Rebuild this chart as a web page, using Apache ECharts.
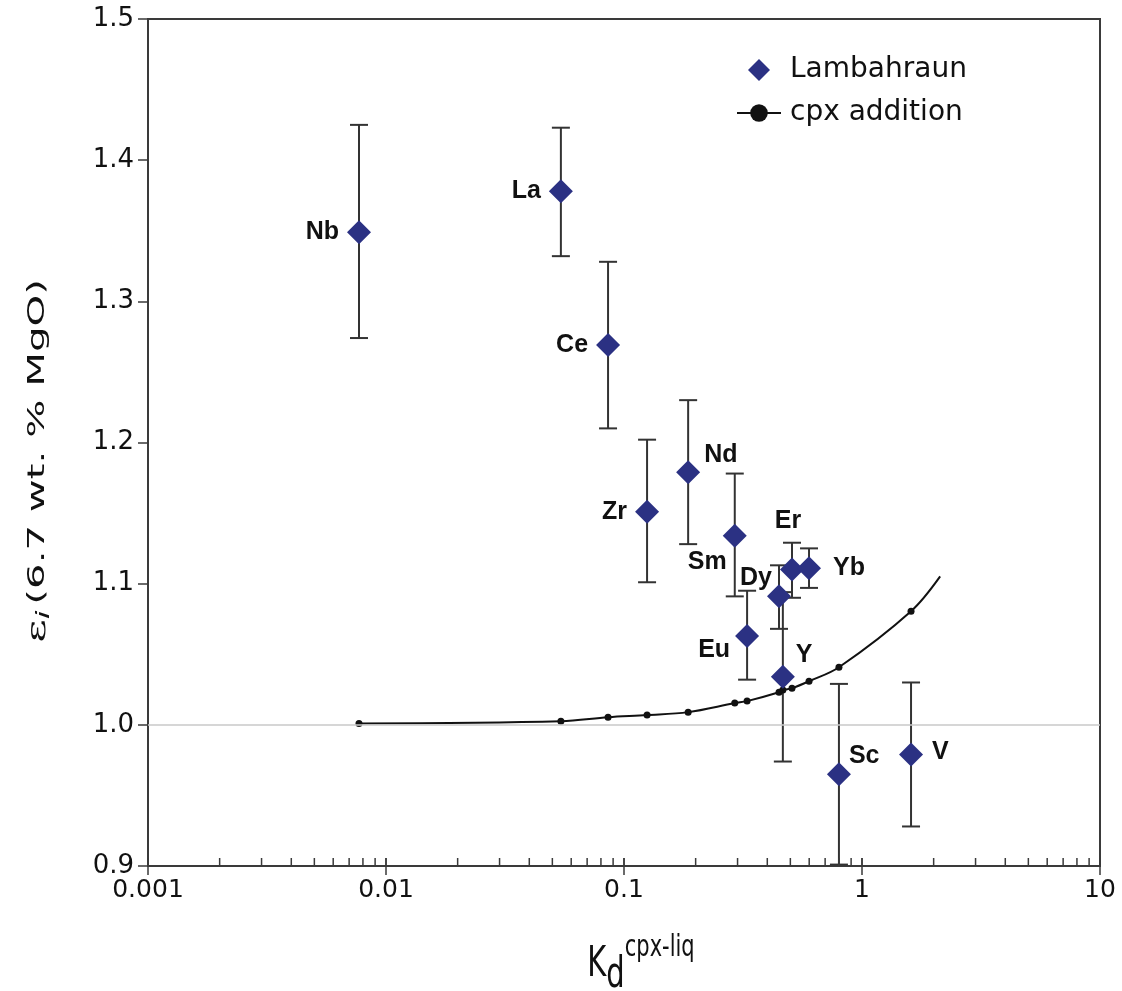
<!DOCTYPE html>
<html>
<head>
<meta charset="utf-8">
<script src="https://cdn.jsdelivr.net/npm/echarts@6/dist/echarts.min.js"></script>
<style>html,body{margin:0;padding:0;background:#fff}#c{width:1122px;height:991px}</style>
</head>
<body>
<div id="c"></div>
<script>
// ---- data ----
var elements = ['Nb','La','Ce','Zr','Nd','Sm','Eu','Dy','Y','Er','Yb','Sc','V'];
var kd       = [0.0077,0.0543,0.0857,0.125,0.186,0.292,0.329,0.448,0.465,0.508,0.599,0.80,1.607];
var epsilon  = [1.349,1.378,1.269,1.151,1.179,1.134,1.063,1.091,1.034,1.110,1.111,0.965,0.979];
var errLow   = [1.274,1.332,1.210,1.101,1.128,1.091,1.032,1.068,0.974,1.090,1.097,0.901,0.928];
var errHigh  = [1.425,1.423,1.328,1.202,1.230,1.178,1.095,1.113,1.094,1.129,1.125,1.029,1.030];
var cpxKd    = [0.0077,0.0543,0.0857,0.125,0.186,0.292,0.329,0.448,0.465,0.508,0.599,0.80,1.607,2.13];
var cpxEps   = [1.001,1.0026,1.0054,1.0069,1.009,1.0154,1.0168,1.0231,1.0246,1.026,1.0309,1.0408,1.0805,1.1052];
var xTickValues = [0.001,0.01,0.1,1,10];
var xTickLabels = ['0.001','0.01','0.1','1','10'];
var yTickLabels = ['0.9','1.0','1.1','1.2','1.3','1.4','1.5'];

// ---- label placement (layout only) ----
var labelPlace = {
  Nb:['left',[0,0]], La:['left',[0,0]], Ce:['left',[0,0]], Zr:['left',[0,0]],
  Nd:['right',[-4,-17]], Sm:['left',[12,26]], Dy:['left',[13,-18]], Er:['top',[-4,-16]],
  Yb:['right',[4,0]], Eu:['left',[3,14]], Y:['right',[-7,-22]], Sc:['right',[-10,-18]], V:['right',[1,-2]]
};

var minorTicks = [];
for (var d = -3; d < 1; d++) {
  for (var k = 1; k <= 10; k++) {
    minorTicks.push(Math.round(k * Math.pow(10, d) * 1e6) / 1e6);
  }
}

var scatterData = elements.map(function (el, i) {
  var p = labelPlace[el];
  return {
    name: el,
    value: [kd[i], epsilon[i]],
    label: {show: true, position: p[0], offset: p[1], distance: 8, formatter: el}
  };
});
var errData = elements.map(function (el, i) { return [kd[i], errLow[i], errHigh[i]]; });
var lineData = cpxKd.map(function (x, i) {
  var item = {value: [x, cpxEps[i]]};
  if (i === cpxKd.length - 1) item.symbol = 'none';
  return item;
});

var chart = echarts.init(document.getElementById('c'), null, {renderer: 'canvas'});
var axisColor = '#3a3a3a';
var txt = '#111';
chart.setOption({
  backgroundColor: '#fff',
  animation: false,
  grid: {left: 148, right: 22, top: 19, bottom: 125, show: true, borderColor: axisColor, borderWidth: 2, backgroundColor: 'transparent'},
  legend: {
    orient: 'vertical', left: 731, top: 51, itemWidth: 44, itemHeight: 22, itemGap: 15,
    symbolKeepAspect: true,
    textStyle: {fontFamily: 'DejaVu Sans', fontSize: 28, color: txt, padding: [0, 0, 0, 4]},
    data: [{name: 'Lambahraun', icon: 'path://M0,-1L1,0L0,1L-1,0Z'}, {name: 'cpx addition'}]
  },
  graphic: [
    {
      type: 'text', x: 641, y: 965, scaleY: 1.45, silent: true,
      style: {
        text: '{k|K}{d|d}{s|cpx-liq}', align: 'center', verticalAlign: 'middle',
        textAlign: 'center', textVerticalAlign: 'middle',
        rich: {
          k: {fontFamily: 'DejaVu Sans', fontSize: 29, fill: txt, color: txt, lineHeight: 44, verticalAlign: 'middle'},
          d: {fontFamily: 'DejaVu Sans', fontSize: 29, fill: txt, color: txt, lineHeight: 26, verticalAlign: 'bottom'},
          s: {fontFamily: 'DejaVu Sans', fontSize: 21, fill: txt, color: txt, lineHeight: 20, verticalAlign: 'top'}
        }
      }
    },
    {
      type: 'text', x: 38, y: 461, rotation: Math.PI / 2, scaleX: 1.75, silent: true,
      style: {
        text: '{e|ε}{i|i} {t|(6.7 wt. % MgO)}', align: 'center', verticalAlign: 'middle',
        textAlign: 'center', textVerticalAlign: 'middle',
        rich: {
          e: {fontFamily: 'DejaVu Serif', fontSize: 26, fill: txt, color: txt, lineHeight: 30, verticalAlign: 'middle'},
          i: {fontFamily: 'DejaVu Sans', fontStyle: 'italic', fontSize: 18, fill: txt, color: txt, lineHeight: 16, verticalAlign: 'bottom'},
          t: {fontFamily: 'DejaVu Sans', fontSize: 23, fill: txt, color: txt, lineHeight: 30, verticalAlign: 'middle'}
        }
      }
    }
  ],
  xAxis: {
    type: 'log', logBase: 10, min: 0.001, max: 10,
    axisLine: {show: true, lineStyle: {color: axisColor, width: 2}},
    axisTick: {show: true, inside: false, length: 9, lineStyle: {color: axisColor, width: 1.5}},
    axisLabel: {fontFamily: 'DejaVu Sans', fontSize: 25, color: txt, margin: 12,
      formatter: function (v) {
        for (var i = 0; i < xTickValues.length; i++) if (Math.abs(Math.log10(v) - Math.log10(xTickValues[i])) < 1e-6) return xTickLabels[i];
        return '';
      }},
    splitLine: {show: false}
  },
  yAxis: {
    type: 'value', min: 0.9, max: 1.5, interval: 0.1,
    axisLine: {show: true, lineStyle: {color: axisColor, width: 2}},
    axisTick: {show: true, inside: false, length: 10, lineStyle: {color: axisColor, width: 1.5}},
    axisLabel: {fontFamily: 'DejaVu Sans', fontSize: 26, color: txt, margin: 14,
      formatter: function (v) { return yTickLabels[Math.round((v - 0.9) * 10)]; }},
    splitLine: {show: false}
  },
  series: [
    {
      name: 'ref', type: 'line', data: [], silent: true,
      markLine: {silent: true, symbol: 'none', label: {show: false},
        lineStyle: {color: '#c8c8c8', width: 1.5, type: 'solid'}, data: [{yAxis: 1.0}]}
    },
    {
      name: 'minor', type: 'custom', silent: true, z: 3,
      data: minorTicks,
      encode: {x: 0},
      renderItem: function (params, api) {
        var p = api.coord([api.value(0), 0.9]);
        return {type: 'line', shape: {x1: p[0], y1: p[1], x2: p[0], y2: p[1] - 8},
          style: {stroke: axisColor, lineWidth: 1.5}};
      }
    },
    {
      name: 'err', type: 'custom', silent: true, z: 2,
      data: errData,
      encode: {x: 0, y: [1, 2]},
      renderItem: function (params, api) {
        var lo = api.coord([api.value(0), api.value(1)]);
        var hi = api.coord([api.value(0), api.value(2)]);
        var w = 9;
        var st = {stroke: '#333', lineWidth: 2};
        return {type: 'group', children: [
          {type: 'line', shape: {x1: lo[0], y1: lo[1], x2: hi[0], y2: hi[1]}, style: st},
          {type: 'line', shape: {x1: lo[0] - w, y1: lo[1], x2: lo[0] + w, y2: lo[1]}, style: st},
          {type: 'line', shape: {x1: hi[0] - w, y1: hi[1], x2: hi[0] + w, y2: hi[1]}, style: st}
        ]};
      }
    },
    {
      name: 'cpx addition', type: 'line', data: lineData, smooth: 0.35, z: 4,
      symbol: 'circle', symbolSize: 7, showSymbol: true,
      lineStyle: {color: '#111', width: 2}, itemStyle: {color: '#111'}
    },
    {
      name: 'Lambahraun', type: 'scatter', data: scatterData, z: 5,
      symbol: 'diamond', symbolSize: 24,
      itemStyle: {color: '#2B3183', opacity: 1},
      label: {fontFamily: 'Liberation Sans', fontWeight: 'bold', fontSize: 25, color: '#111'}
    }
  ]
});
</script>
</body>
</html>
